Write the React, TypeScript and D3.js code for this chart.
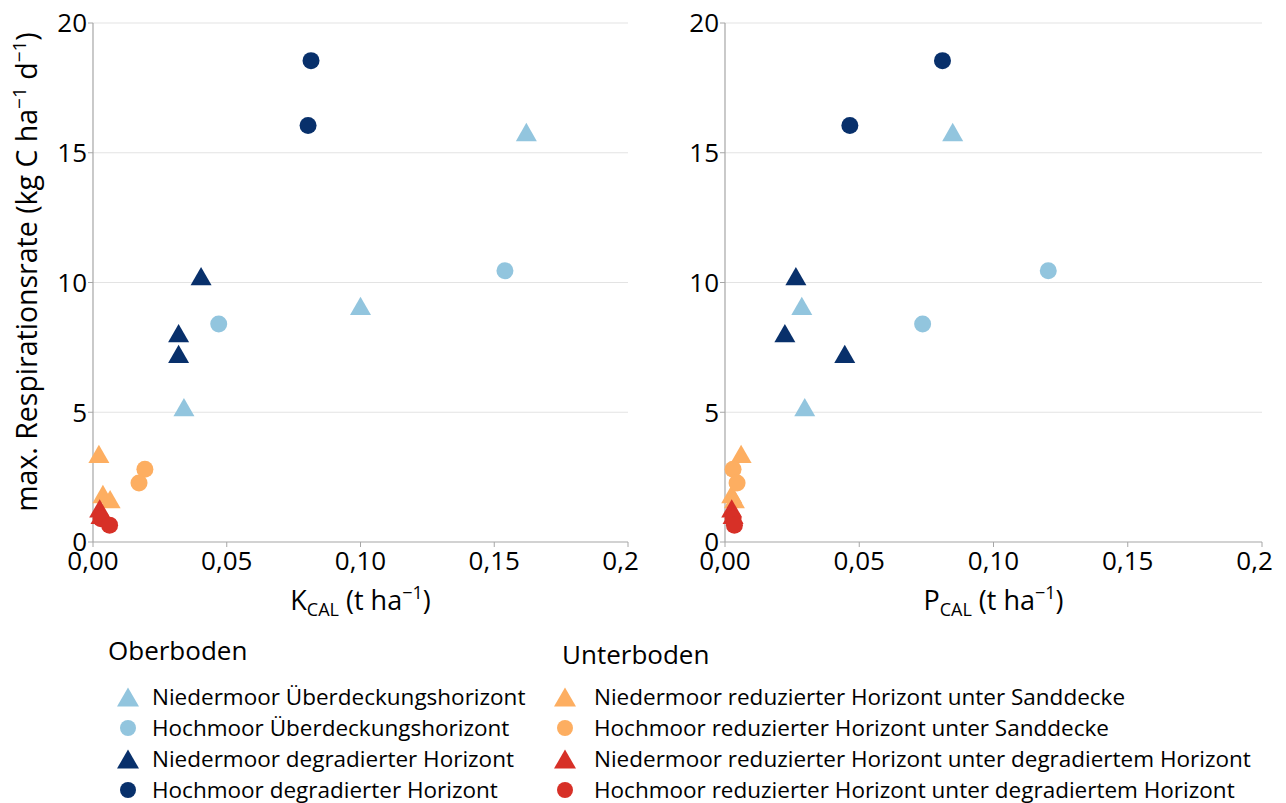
import { scaleLinear, symbol, symbolCircle } from "d3";

// y: max. Respirationsrate (kg C ha-1 d-1), same samples in both panels
const seriesNames = [
  "Niedermoor Überdeckungshorizont",
  "Hochmoor Überdeckungshorizont",
  "Niedermoor degradierter Horizont",
  "Hochmoor degradierter Horizont",
  "Niedermoor reduzierter Horizont unter Sanddecke",
  "Hochmoor reduzierter Horizont unter Sanddecke",
  "Niedermoor reduzierter Horizont unter degradiertem Horizont",
  "Hochmoor reduzierter Horizont unter degradiertem Horizont",
];
const seriesShapes = ["triangle", "circle", "triangle", "circle", "triangle", "circle", "triangle", "circle"];
const seriesColors = ["#92c5de", "#92c5de", "#08306b", "#08306b", "#fdae61", "#fdae61", "#d73027", "#d73027"];
const groupTitles = ["Oberboden", "Unterboden"];

const respiration = [
  [15.8, 9.1, 5.2],
  [10.45, 8.4],
  [10.25, 8.05, 7.25],
  [18.55, 16.05],
  [3.4, 1.85, 1.65],
  [2.8, 2.27],
  [1.3, 1.05],
  [0.9, 0.65],
];
const kCal = [
  [0.162, 0.1, 0.034],
  [0.154, 0.047],
  [0.0404, 0.032, 0.032],
  [0.0815, 0.0804],
  [0.0022, 0.0037, 0.0064],
  [0.0194, 0.0172],
  [0.0025, 0.003],
  [0.003, 0.0062],
];
const pCal = [
  [0.0848, 0.0286, 0.0297],
  [0.1204, 0.0736],
  [0.0264, 0.0223, 0.0446],
  [0.081, 0.0465],
  [0.006, 0.0025, 0.0035],
  [0.003, 0.0045],
  [0.0025, 0.003],
  [0.003, 0.0035],
];

const xTicks = [0, 0.05, 0.1, 0.15, 0.2];
const xTickLabels = ["0,00", "0,05", "0,10", "0,15", "0,20"];
const yTicks = [0, 5, 10, 15, 20];

const W = 1286;
const H = 803;
const FONT = "'Open Sans', sans-serif";
const TOP = 23;
const BOTTOM = 542;

const yScale = scaleLinear().domain([0, 20]).range([BOTTOM, TOP]);

// triangle centred on its bounding box
function triangle(w: number) {
  const h = w * 0.87;
  return `M0,${-h / 2}L${w / 2},${h / 2}L${-w / 2},${h / 2}Z`;
}
const circlePath = symbol(symbolCircle, Math.PI * 8.5 * 8.5)() ?? "";

function Marker({ shape, color, x, y, tri = 21, circ = circlePath }: any) {
  return (
    <path
      transform={`translate(${x},${y})`}
      d={shape === "triangle" ? triangle(tri) : circ}
      fill={color}
    />
  );
}

function Panel({
  id,
  x0,
  x1,
  xs,
  letter,
}: {
  id: string;
  x0: number;
  x1: number;
  xs: number[][];
  letter: string;
}) {
  const xScale = scaleLinear().domain([0, 0.2]).range([x0, x1]);
  return (
    <g>
      <defs>
        <clipPath id={`clip-${id}`}>
          <rect x={x0 - 90} y={0} width={x1 - x0 + 100} height={H} />
        </clipPath>
      </defs>
      {/* grid */}
      {yTicks
        .filter((t) => t > 0)
        .map((t) => (
          <line key={t} x1={x0} x2={x1} y1={yScale(t)} y2={yScale(t)} stroke="#e3e3e3" strokeWidth={1} />
        ))}
      {/* axes */}
      <line x1={x0} x2={x0} y1={TOP} y2={BOTTOM} stroke="#a6a6a6" strokeWidth={1.2} />
      <line x1={x0} x2={x1} y1={BOTTOM} y2={BOTTOM} stroke="#a6a6a6" strokeWidth={1.2} />
      {yTicks.map((t) => (
        <g key={t}>
          <line x1={x0 - 5} x2={x0} y1={yScale(t)} y2={yScale(t)} stroke="#a6a6a6" />
          <text
            x={x0 - 6}
            y={yScale(t)}
            dy="0.36em"
            textAnchor="end"
            fontFamily={FONT}
            fontSize={26}
            fill="#000"
          >
            {t}
          </text>
        </g>
      ))}
      <g clipPath={`url(#clip-${id})`}>
        {xTicks.map((t, i) => (
          <g key={t}>
            <line x1={xScale(t)} x2={xScale(t)} y1={BOTTOM} y2={BOTTOM + 5} stroke="#a6a6a6" />
            <text
              x={xScale(t)}
              y={BOTTOM + 28}
              textAnchor="middle"
              fontFamily={FONT}
              fontSize={26}
              fill="#000"
            >
              {xTickLabels[i]}
            </text>
          </g>
        ))}
      </g>
      <text
        x={(x0 + x1) / 2}
        y={BOTTOM + 68}
        textAnchor="middle"
        fontFamily={FONT}
        fontSize={27}
        fill="#000"
      >
        {letter}
        <tspan fontSize={18} dy={6}>
          CAL
        </tspan>
        <tspan dy={-6}> (t ha</tspan>
        <tspan fontSize={18} dy={-11}>
          −1
        </tspan>
        <tspan dy={11}>)</tspan>
      </text>
      {/* points */}
      {respiration.map((ys, s) =>
        ys.map((v, j) => (
          <Marker
            key={`${s}-${j}`}
            shape={seriesShapes[s]}
            color={seriesColors[s]}
            x={xScale(xs[s][j])}
            y={yScale(v)}
          />
        ))
      )}
    </g>
  );
}

export default function App() {
  const legendRows = [0, 1, 2, 3];
  const legendCols = [
    { title: groupTitles[0], tx: 108, mx: 128, lx: 152, ty: 660 },
    { title: groupTitles[1], tx: 562, mx: 565, lx: 594, ty: 664 },
  ];
  return (
    <svg
      width={W}
      height={H}
      viewBox={`0 0 ${W} ${H}`}
      style={{ position: "absolute", left: 0, top: 0, background: "#fff" }}
    >
      <rect width={W} height={H} fill="#fff" />
      <text
        transform={`translate(37, 272) rotate(-90)`}
        textAnchor="middle"
        fontFamily={FONT}
        fontSize={28.5}
        fill="#000"
      >
        max. Respirationsrate (kg C ha
        <tspan fontSize={19} dy={-11}>
          −1
        </tspan>
        <tspan dy={11}> d</tspan>
        <tspan fontSize={19} dy={-11}>
          −1
        </tspan>
        <tspan dy={11}>)</tspan>
      </text>
      <Panel id="k" x0={93} x1={628} xs={kCal} letter="K" />
      <Panel id="p" x0={725} x1={1262} xs={pCal} letter="P" />
      {/* legend */}
      {legendCols.map((c, ci) => (
        <g key={ci}>
          <text x={c.tx} y={c.ty} fontFamily={FONT} fontSize={26} fill="#000">
            {c.title}
          </text>
          {legendRows.map((r) => {
            const s = ci * 4 + r;
            const cy = 697 + r * 31;
            return (
              <g key={r}>
                <Marker
                  shape={seriesShapes[s]}
                  color={seriesColors[s]}
                  x={c.mx}
                  y={cy}
                  tri={22}
                  circ={symbol(symbolCircle, Math.PI * 8 * 8)() ?? ""}
                />
                <text x={c.lx} y={cy} dy="0.36em" fontFamily={FONT} fontSize={22.5} fill="#000">
                  {seriesNames[s]}
                </text>
              </g>
            );
          })}
        </g>
      ))}
    </svg>
  );
}
